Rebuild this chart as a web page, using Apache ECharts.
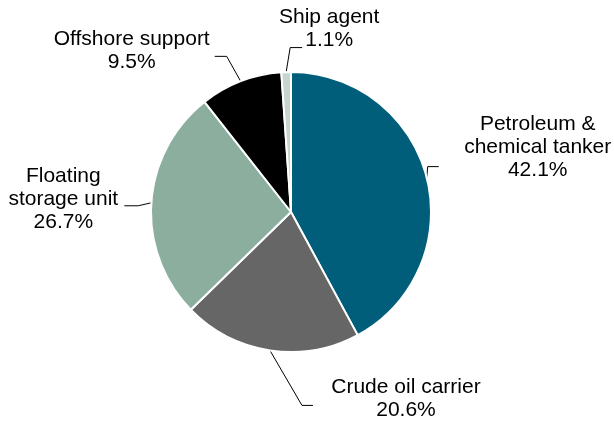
<!DOCTYPE html>
<html>
<head>
<meta charset="utf-8">
<script src="https://cdn.jsdelivr.net/npm/echarts@6/dist/echarts.min.js"></script>
<style>
  html, body { margin: 0; padding: 0; background: #fff; }
  #chart { width: 614px; height: 425px; }
</style>
</head>
<body>
<div id="chart"></div>
<script>
const categories = ['Petroleum &\nchemical tanker', 'Crude oil carrier', 'Floating\nstorage unit', 'Offshore support', 'Ship agent'];
const shares = [42.1, 20.6, 26.7, 9.5, 1.1];
const colors = ['#005E7A', '#666666', '#8CAE9F', '#000000', '#C5D6D0'];

// leader line bend/end and label centre, relative to the slice edge point
const labelOffsets = [
  { bend: [1, -11], run: 11, text: [99, -19] },
  { bend: [32, 55], run: 11, text: [93, -7] },
  { bend: [-13, 3], run: -14, text: [-61, -6.5] },
  { bend: [-14, -25], run: -12, text: [-83, -6] },
  { bend: [4, -24.5], run: 12, text: [27, -18.5] }
];

const myChart = echarts.init(document.getElementById('chart'));
myChart.setOption({
  animation: false,
  series: [{
    type: 'pie',
    center: [291, 212],
    radius: 140,
    startAngle: 90,
    avoidLabelOverlap: false,
    data: categories.map((name, i) => ({
      name: name,
      value: shares[i],
      itemStyle: { color: colors[i] }
    })),
    itemStyle: { borderColor: '#fff', borderWidth: 2 },
    label: {
      show: true,
      position: 'outside',
      color: '#000',
      fontFamily: 'Liberation Sans, Arial, sans-serif',
      fontSize: 21,
      lineHeight: 23,
      formatter: p => p.name + '\n' + p.value.toFixed(1) + '%'
    },
    labelLine: {
      show: true,
      length: 10,
      length2: 10,
      lineStyle: { color: '#000', width: 1 }
    },
    labelLayout: params => {
      const o = labelOffsets[params.dataIndex];
      const p0 = params.labelLinePoints[0];
      const p1 = [p0[0] + o.bend[0], p0[1] + o.bend[1]];
      const p2 = [p1[0] + o.run, p1[1]];
      return {
        x: p2[0] + o.text[0],
        y: p2[1] + o.text[1],
        align: 'center',
        verticalAlign: 'middle',
        labelLinePoints: [p0, p1, p2]
      };
    }
  }]
});
</script>
</body>
</html>
